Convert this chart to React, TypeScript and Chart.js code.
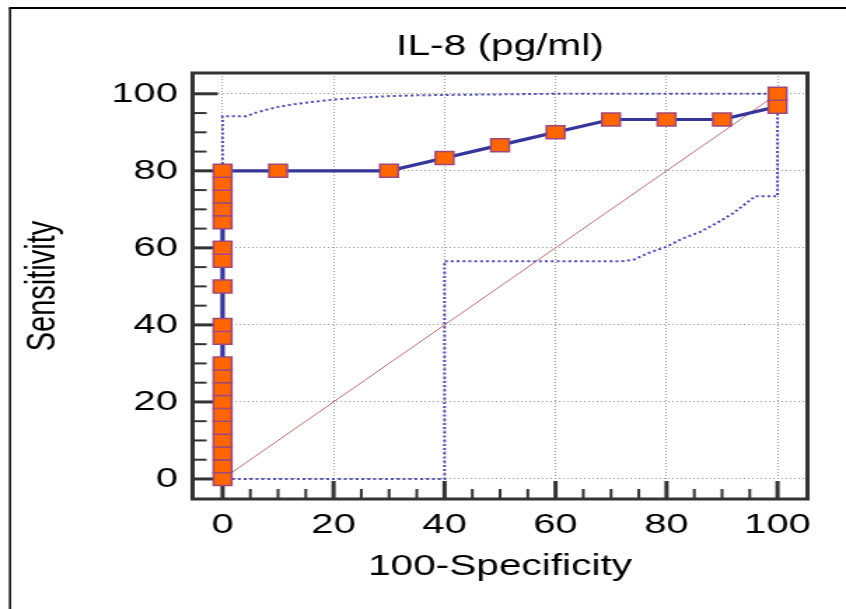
import React, { useEffect, useRef } from 'react';
import { Chart, registerables } from 'chart.js';

Chart.register(...registerables);

// ---------- data ----------
const TITLE = 'IL-8 (pg/ml)';
const X_TITLE = '100-Specificity';
const Y_TITLE = 'Sensitivity';

const TICKS = [0, 20, 40, 60, 80, 100];
const MINOR_TICKS = [5, 10, 15, 25, 30, 35, 45, 50, 55, 65, 70, 75, 85, 90, 95];

const ROC_X = [
  0, 0, 0, 0, 0, 0, 0, 0, 0, 0,
  0, 0, 0, 0, 0, 0, 0, 0, 0, 0,
  10, 30, 40, 50, 60, 70, 80, 90, 100, 100,
];
const ROC_Y = [
  0, 3.33, 6.67, 10, 13.33, 16.67, 20, 23.33, 26.67, 30,
  36.67, 40, 50, 56.67, 60, 66.67, 70, 73.33, 76.67, 80,
  80, 80, 83.33, 86.67, 90, 93.33, 93.33, 93.33, 96.67, 100,
];

// confidence bounds (upper then lower, as one closed dotted path)
const BAND_X = [
  0, 0, 4.3, 6, 8, 10, 12, 15, 20, 25, 30, 35, 40, 50, 60, 100,
  100, 96, 94, 92, 89, 86, 83, 80, 77, 74, 71.7, 40, 40, 0,
];
const BAND_Y = [
  0, 94.2, 94.2, 95.1, 95.9, 96.6, 97.1, 97.7, 98.5, 99.0, 99.4, 99.6, 99.7, 99.85, 100, 100,
  73.4, 73.4, 71.2, 69.0, 66.4, 64.1, 62.5, 60.3, 58.8, 56.9, 56.5, 56.5, 0, 0,
];

const DIAG_X = [0, 100];
const DIAG_Y = [0, 100];

// ---------- layout ----------
const W = 604;
const H = 609;
const DISPLAY_W = 846;

const pts = (xs: number[], ys: number[]) => xs.map((x, i) => ({ x, y: ys[i] }));

const framePlugin = {
  id: 'framePlugin',
  beforeDraw(chart: any) {
    const ctx = chart.ctx;
    ctx.save();
    ctx.fillStyle = '#ffffff';
    ctx.fillRect(0, 0, W, H);
    ctx.strokeStyle = '#000000';
    ctx.lineWidth = 1.5;
    ctx.beginPath();
    ctx.moveTo(7.15, H);
    ctx.lineTo(7.15, 8);
    ctx.stroke();
    ctx.lineWidth = 2;
    ctx.beginPath();
    ctx.moveTo(6.4, 8);
    ctx.lineTo(W, 8);
    ctx.stroke();
    ctx.restore();
  },
  beforeDatasetsDraw(chart: any) {
    const { ctx, chartArea: a, scales } = chart;
    const xs = scales.x;
    const ys = scales.y;
    ctx.save();
    ctx.strokeStyle = '#333333';
    ctx.lineCap = 'butt';
    const majorLen = 18;
    const minorLen = 10;
    ctx.lineWidth = 3;
    TICKS.forEach((v) => {
      const px = xs.getPixelForValue(v);
      ctx.beginPath();
      ctx.moveTo(px, a.bottom);
      ctx.lineTo(px, a.bottom - majorLen);
      ctx.stroke();
      const py = ys.getPixelForValue(v);
      ctx.beginPath();
      ctx.moveTo(a.left, py);
      ctx.lineTo(a.left + majorLen, py);
      ctx.stroke();
    });
    ctx.lineWidth = 2;
    MINOR_TICKS.forEach((v) => {
      const px = xs.getPixelForValue(v);
      ctx.beginPath();
      ctx.moveTo(px, a.bottom);
      ctx.lineTo(px, a.bottom - minorLen);
      ctx.stroke();
      const py = ys.getPixelForValue(v);
      ctx.beginPath();
      ctx.moveTo(a.left, py);
      ctx.lineTo(a.left + minorLen, py);
      ctx.stroke();
    });
    ctx.lineWidth = 3;
    ctx.strokeRect(a.left, a.top, a.right - a.left, a.bottom - a.top);
    ctx.restore();
  },
};

export default function App() {
  const ref = useRef<HTMLCanvasElement | null>(null);

  useEffect(() => {
    if (!ref.current) return;
    Chart.defaults.font.family = '"Liberation Sans", Arial, sans-serif';
    const tickFont = { size: 28.5, family: '"Liberation Sans", Arial, sans-serif' };
    const titleFont = { size: 29, weight: 'normal' as const, family: '"Liberation Sans", Arial, sans-serif' };

    const chart = new Chart(ref.current, {
      type: 'scatter',
      data: {
        datasets: [
          {
            label: 'ROC',
            data: pts(ROC_X, ROC_Y),
            showLine: true,
            borderColor: '#35359a',
            borderWidth: 3.2,
            pointStyle: 'rect',
            pointRadius: 9.2,
            pointBackgroundColor: '#ff6600',
            pointBorderColor: '#a04878',
            pointBorderWidth: 1.5,
          },
          {
            label: 'Diagonal',
            data: pts(DIAG_X, DIAG_Y),
            showLine: true,
            borderColor: '#b86a6a',
            borderWidth: 1,
            pointRadius: 0,
          },
          {
            label: 'Confidence',
            data: pts(BAND_X, BAND_Y),
            showLine: true,
            borderColor: '#4a4aaa',
            borderWidth: 2,
            borderDash: [2, 2.2],
            pointRadius: 0,
          },
        ],
      },
      options: {
        animation: false,
        responsive: false,
        devicePixelRatio: 1,
        layout: { padding: { left: 0, right: 27.5, top: 0, bottom: 0 } },
        plugins: {
          legend: { display: false },
          tooltip: { enabled: false },
          title: {
            display: true,
            text: TITLE,
            color: '#000',
            font: titleFont,
            fullSize: false,
            padding: { top: 29.5, bottom: 8.7 },
          },
        },
        events: [],
        scales: {
          x: {
            type: 'linear',
            min: -5.4,
            max: 105.4,
            afterBuildTicks: (s: any) => {
              s.ticks = TICKS.map((v) => ({ value: v }));
            },
            afterFit: (s: any) => {
              s.height = 110;
            },
            grid: { color: '#9a9a9a', lineWidth: 1, drawTicks: false },
            border: { display: false, dash: [1, 2] },
            ticks: { color: '#000', font: tickFont, padding: 9, maxRotation: 0 },
            title: {
              display: true,
              text: X_TITLE,
              color: '#000',
              font: titleFont,
              padding: { top: 0, bottom: 24.6 },
            },
          },
          y: {
            type: 'linear',
            min: -5.2,
            max: 105.4,
            afterBuildTicks: (s: any) => {
              s.ticks = TICKS.map((v) => ({ value: v }));
            },
            afterFit: (s: any) => {
              s.width = 137.5;
            },
            grid: { color: '#9a9a9a', lineWidth: 1, drawTicks: false },
            border: { display: false, dash: [1, 2] },
            ticks: { color: '#000', font: tickFont, padding: 10.5 },
            title: {
              display: true,
              text: Y_TITLE,
              color: '#000',
              font: titleFont,
              padding: { top: 13.4, bottom: 0 },
            },
          },
        },
      },
      plugins: [framePlugin],
    } as any);

    return () => chart.destroy();
  }, []);

  return (
    <div
      style={{
        position: 'absolute',
        left: 0,
        top: 0,
        width: DISPLAY_W,
        height: H,
        overflow: 'hidden',
        background: '#fff',
      }}
    >
      <canvas
        ref={ref}
        width={W}
        height={H}
        style={{ width: DISPLAY_W + 'px', height: H + 'px', display: 'block' }}
      />
    </div>
  );
}
